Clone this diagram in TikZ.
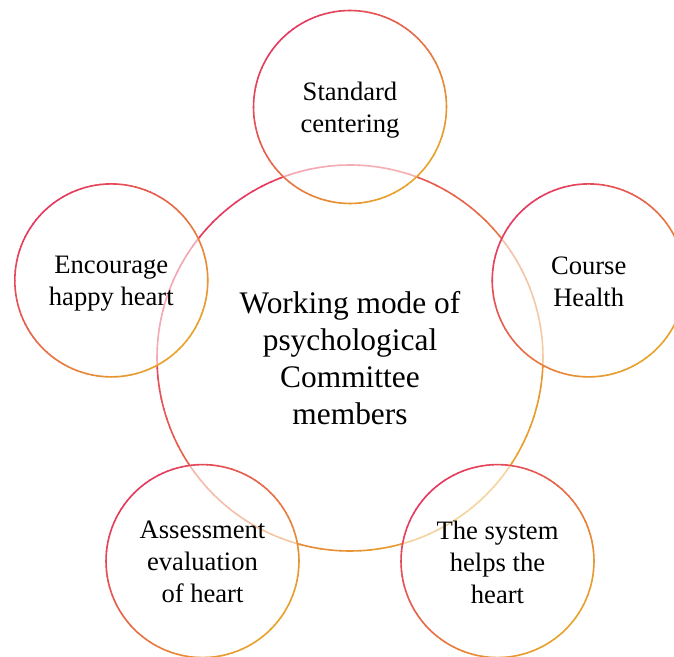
\documentclass[tikz,border=0pt]{standalone}
\usepackage{fontspec}
\setmainfont{Liberation Serif}
\definecolor{cred}{HTML}{E53A60}
\definecolor{cgold}{HTML}{E8A32C}
\newcommand{\gradring}[2]{%
  \foreach \a in {0,3,...,357}{%
    \pgfmathsetmacro{\pct}{50+50*cos(\a+1.5-135)}%
    \draw[ringline, color=cred!\pct!cgold] ([shift={(\a:#2)}]#1.center) arc[start angle=\a, end angle=\a+3.4, radius=#2];
  }}
\begin{document}
\begin{tikzpicture}[x=1pt,y=1pt,
  ringline/.style={line width=1.6pt, line cap=butt},
  bigc/.style={circle, minimum size=386pt, inner sep=0pt, align=center,
    font=\fontsize{31.4}{37}\selectfont},
  smallc/.style={circle, minimum size=193pt, inner sep=0pt,
    fill=white, fill opacity=0.55},
  smallt/.style={align=center, inner sep=0pt, yshift=-1pt,
    font=\fontsize{26.6}{32}\selectfont}]
\useasboundingbox (0,0) rectangle (674,656);
\clip (0,0) rectangle (674,656);
\node[bigc] (c) at (350,298) {Working mode of\\psychological\\Committee\\members};
\gradring{c}{193}
\node[smallc] (t) at (350,549) {};
\gradring{t}{96.5}
\node[smallt, yshift=-2pt] (tt) at (t.center) {Standard\\centering};
\node[smallc] (r) at (588.7,375.6) {};
\gradring{r}{96.5}
\node[smallt] (rt) at (r.center) {Course\\Health};
\node[smallc] (br) at (497.5,94.9) {};
\gradring{br}{96.5}
\node[smallt] (brt) at (br.center) {The system\\helps the\\heart};
\node[smallc] (bl) at (202.5,94.9) {};
\gradring{bl}{96.5}
\node[smallt] (blt) at (bl.center) {Assessment\\evaluation\\of heart};
\node[smallc] (l) at (111.3,375.6) {};
\gradring{l}{96.5}
\node[smallt, yshift=-2pt] (lt) at (l.center) {Encourage\\happy heart};
\end{tikzpicture}
\end{document}
